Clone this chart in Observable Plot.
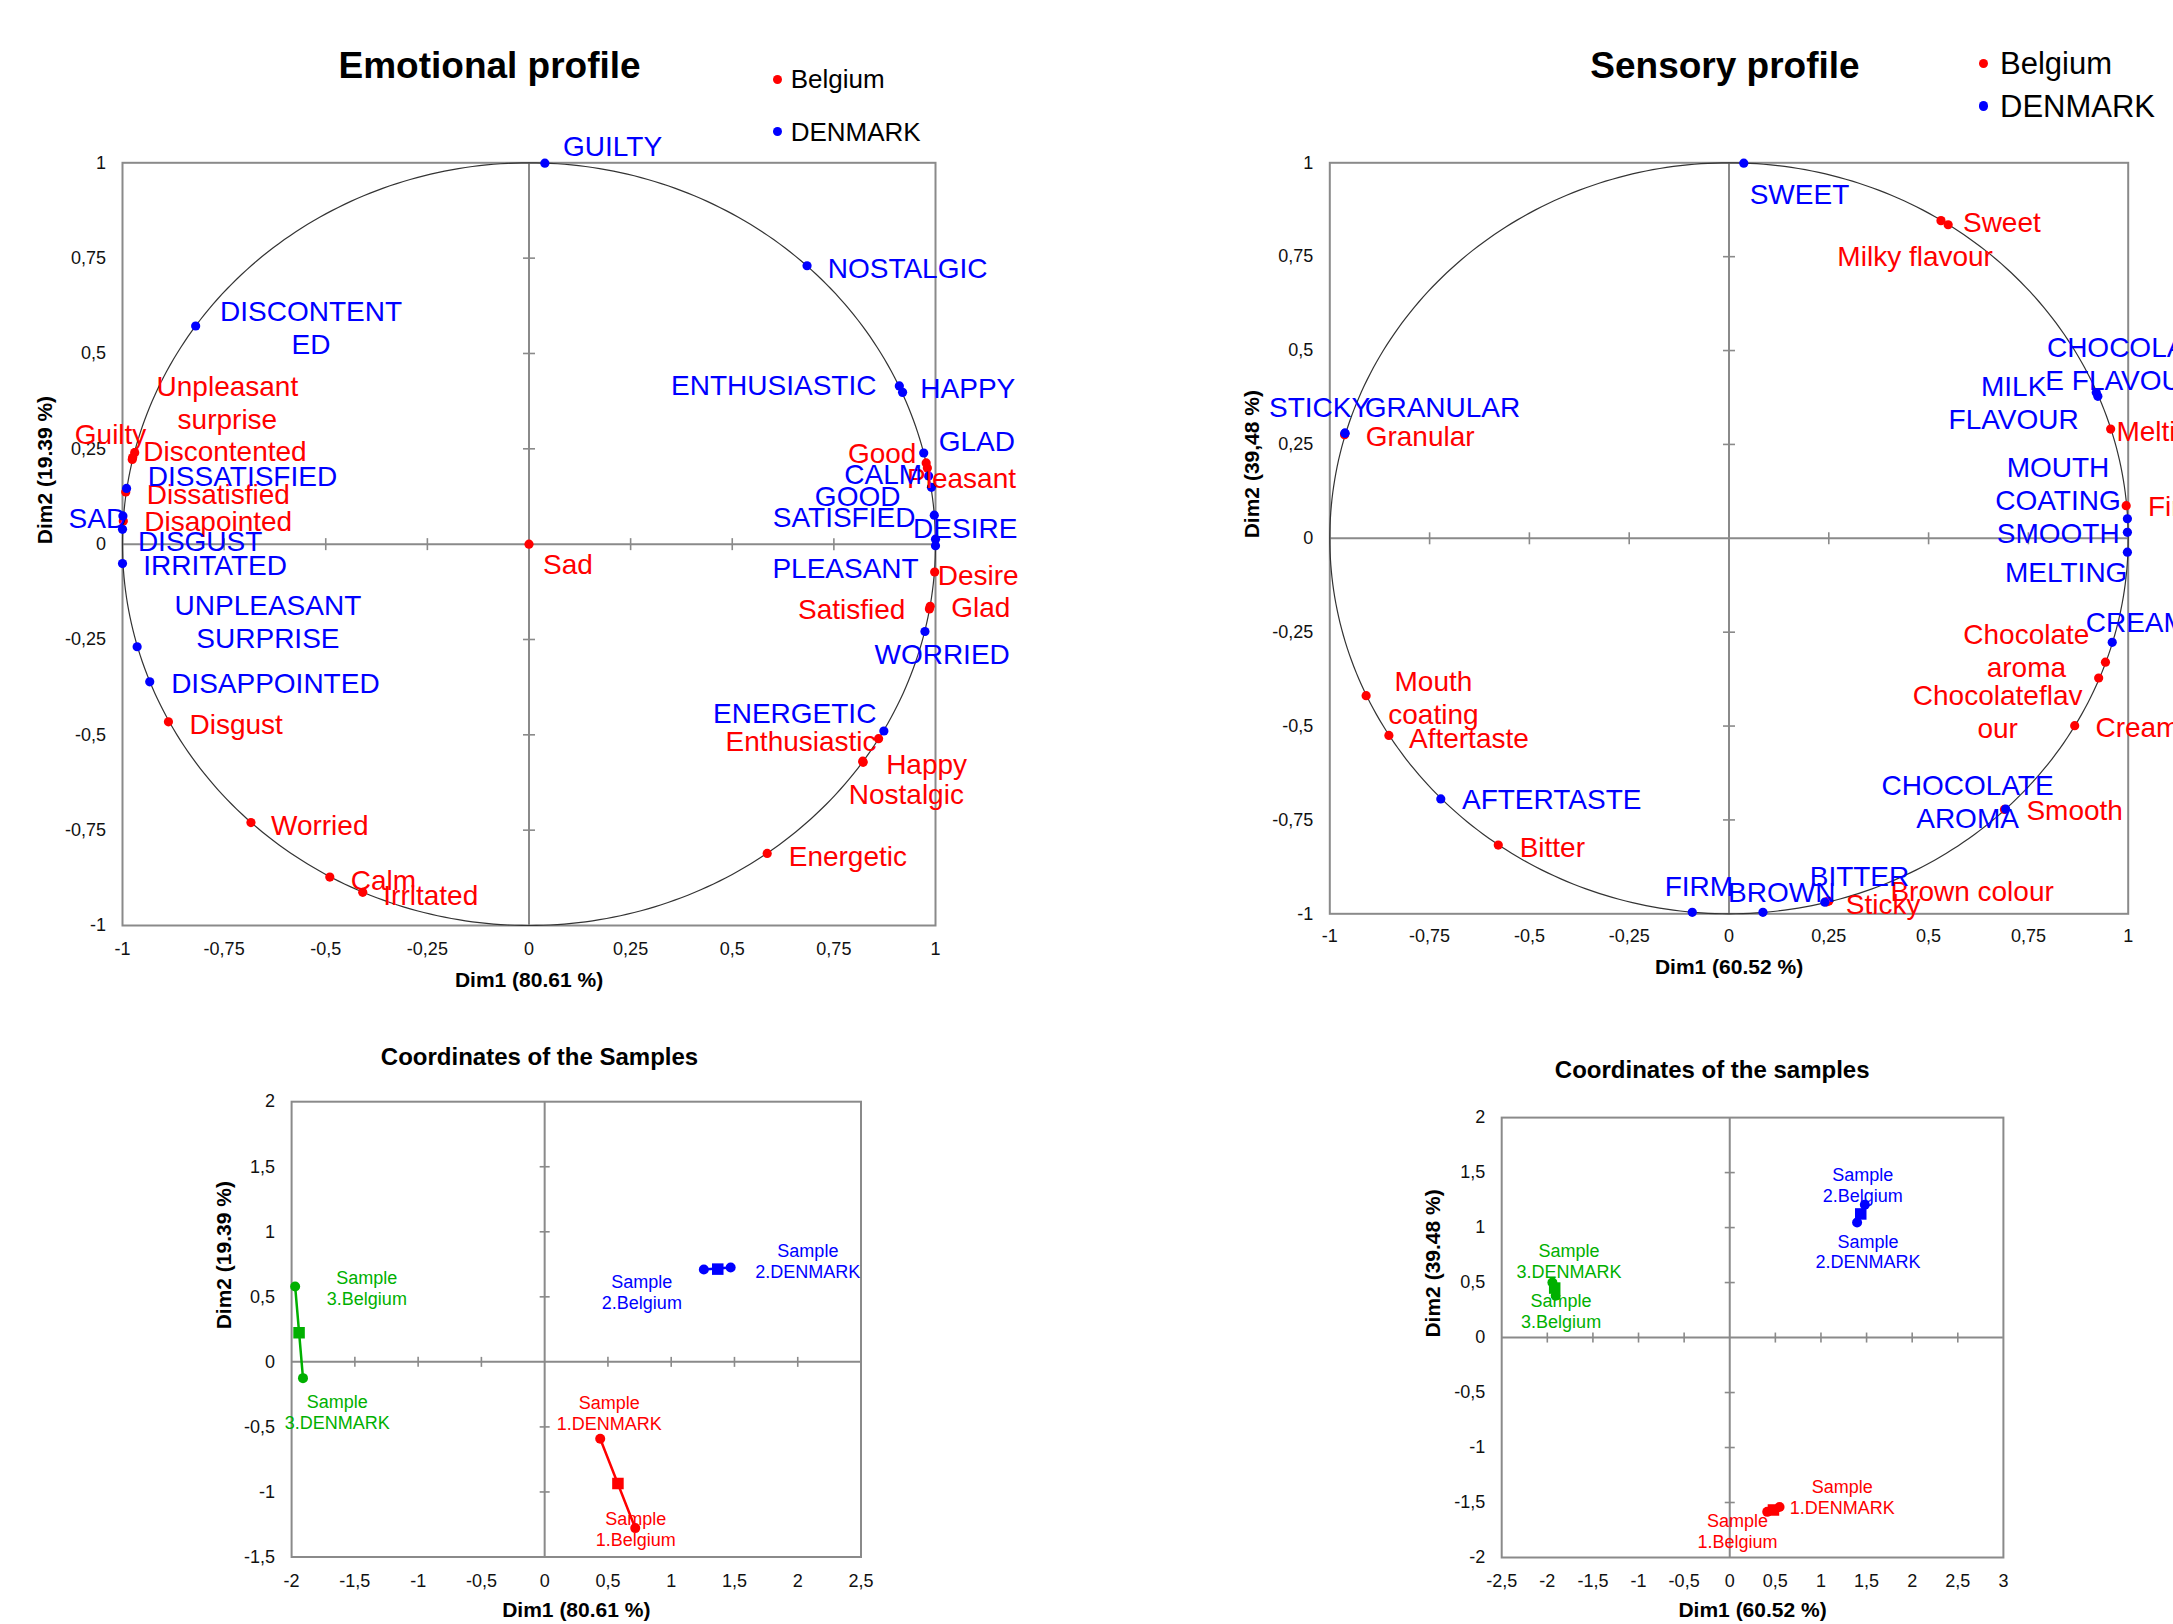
<!DOCTYPE html>
<html>
<head>
<meta charset="utf-8">
<script src="https://cdn.jsdelivr.net/npm/d3@7"></script>
<script src="https://cdn.jsdelivr.net/npm/@observablehq/plot@0.6"></script>
<style>
  html, body { margin: 0; padding: 0; background: #fff; }
  #page { position: relative; width: 2173px; height: 1624px; overflow: hidden; background: #fff;
          font-family: "Liberation Sans", Arial, Helvetica, sans-serif; color: #000; }
  .txt { position: absolute; white-space: nowrap; line-height: 1; }
  .ldot { position: absolute; border-radius: 50%; }
</style>
</head>
<body>
<div id="page"></div>
<script>
// ===================== DATA =====================
// Tick values
const corrTicks = [-1, -0.75, -0.5, -0.25, 0, 0.25, 0.5, 0.75, 1];
const emoSampleTicksX = [-2, -1.5, -1, -0.5, 0, 0.5, 1, 1.5, 2, 2.5];
const emoSampleTicksY = [-1.5, -1, -0.5, 0, 0.5, 1, 1.5, 2];
const senSampleTicksX = [-2.5, -2, -1.5, -1, -0.5, 0, 0.5, 1, 1.5, 2, 2.5, 3];
const senSampleTicksY = [-2, -1.5, -1, -0.5, 0, 0.5, 1, 1.5, 2];

// Emotional profile — Belgium (red)
const emoBelgiumNames = ["Unpleasant\nsurprise", "Guilty", "Discontented", "Dissatisfied", "Disapointed", "Sad", "Disgust", "Worried", "Calm", "Irritated", "Good", "Pleasant", "Desire", "Glad", "Satisfied", "Enthusiastic", "Happy", "Nostalgic", "Energetic"];
const emoBelgiumX = [-0.970, -0.975, -0.976, -0.992, -0.998, 0.000, -0.887, -0.684, -0.490, -0.409, 0.977, 0.980, 0.998, 0.987, 0.985, 0.860, 0.821, 0.822, 0.586];
const emoBelgiumY = [0.240, 0.227, 0.222, 0.137, 0.061, 0.000, -0.466, -0.730, -0.873, -0.913, 0.213, 0.200, -0.073, -0.163, -0.170, -0.510, -0.569, -0.572, -0.811];

// Emotional profile — DENMARK (blue)
const emoDenmarkNames = ["GUILTY", "NOSTALGIC", "DISCONTENT\nED", "ENTHUSIASTIC", "HAPPY", "GLAD", "CALM", "GOOD", "SATISFIED", "DESIRE", "PLEASANT", "DISSATISFIED", "SAD", "DISGUST", "IRRITATED", "UNPLEASANT\nSURPRISE", "DISAPPOINTED", "WORRIED", "ENERGETIC"];
const emoDenmarkX = [0.039, 0.684, -0.820, 0.911, 0.919, 0.971, 0.983, 0.990, 0.997, 1.000, 1.000, -0.990, -0.999, -1.000, -1.000, -0.964, -0.933, 0.974, 0.873];
const emoDenmarkY = [0.999, 0.730, 0.572, 0.415, 0.398, 0.239, 0.179, 0.149, 0.076, 0.013, -0.004, 0.146, 0.074, 0.039, -0.051, -0.269, -0.361, -0.229, -0.490];

// Sensory profile — Belgium (red)
const senBelgiumNames = ["Sweet", "Milky flavour", "Melting", "Firm", "Chocolate\naroma", "Chocolateflav\nour", "Creamy", "Smooth", "Sticky", "Brown colour", "Bitter", "Aftertaste", "Mouth\ncoating", "Granular"];
const senBelgiumX = [0.531, 0.549, 0.956, 0.995, 0.943, 0.926, 0.866, 0.690, 0.245, 0.250, -0.578, -0.852, -0.909, -0.963];
const senBelgiumY = [0.846, 0.835, 0.291, 0.087, -0.330, -0.372, -0.499, -0.722, -0.968, -0.966, -0.817, -0.525, -0.419, 0.276];

// Sensory profile — DENMARK (blue)
const senDenmarkNames = ["SWEET", "CHOCOLAT\nE FLAVOUR", "MILK\nFLAVOUR", "MOUTH\nCOATING", "SMOOTH", "MELTING", "CREAMY", "CHOCOLATE\nAROMA", "BITTER", "BROWN", "FIRM", "AFTERTASTE", "STICKY", "GRANULAR"];
const senDenmarkX = [0.037, 0.924, 0.920, 0.998, 0.998, 0.998, 0.960, 0.693, 0.240, 0.085, -0.092, -0.722, -0.962, -0.962];
const senDenmarkY = [0.999, 0.378, 0.388, 0.052, 0.016, -0.037, -0.277, -0.721, -0.969, -0.996, -0.996, -0.694, 0.280, 0.280];

// Coordinates of the samples (emotional) — samples 1, 2, 3
const emoSampleBelgiumLabels = ["Sample\n1.Belgium", "Sample\n2.Belgium", "Sample\n3.Belgium"];
const emoSampleDenmarkLabels = ["Sample\n1.DENMARK", "Sample\n2.DENMARK", "Sample\n3.DENMARK"];
const emoSampleBelgiumX = [0.716, 1.258, -1.972];
const emoSampleBelgiumY = [-1.278, 0.710, 0.580];
const emoSampleDenmarkX = [0.439, 1.470, -1.910];
const emoSampleDenmarkY = [-0.591, 0.725, -0.125];
const emoSampleCentreX = [0.579, 1.368, -1.941];
const emoSampleCentreY = [-0.935, 0.713, 0.224];

// Coordinates of the samples (sensory)
const senSampleBelgiumLabels = ["Sample\n1.Belgium", "Sample\n2.Belgium", "Sample\n3.Belgium"];
const senSampleDenmarkLabels = ["Sample\n1.DENMARK", "Sample\n2.DENMARK", "Sample\n3.DENMARK"];
const senSampleBelgiumX = [0.411, 1.481, -1.908];
const senSampleBelgiumY = [-1.585, 1.208, 0.380];
const senSampleDenmarkX = [0.546, 1.396, -1.944];
const senSampleDenmarkY = [-1.541, 1.046, 0.501];
const senSampleCentreX = [0.479, 1.436, -1.919];
const senSampleCentreY = [-1.568, 1.124, 0.450];

// ===================== LABEL PLACEMENT (pixel offsets, style) =====================
const emoLabelPos = {
  "Unpleasant\nsurprise": [92.7, -50.4, "middle"], "Guilty": [13.7, -23.8, "end"], "Discontented": [11, -8.7, "start"],
  "Dissatisfied": [21, 1.6, "start"], "Disapointed": [21, -0.6, "start"], "Sad": [14, 19.4, "start"],
  "Disgust": [21, 2, "start"], "Worried": [20, 2, "start"], "Calm": [21, 2, "start"], "Irritated": [20.6, 2, "start"],
  "Good": [-9.7, -10.4, "end"], "Pleasant": [-20.3, 9.6, "start"], "Desire": [3, 2.2, "start"], "Glad": [21, 0.6, "start"],
  "Satisfied": [-24, -0.4, "end"], "Enthusiastic": [-2, 1.7, "end"], "Happy": [23.4, 2.6, "start"],
  "Nostalgic": [-14.4, 31.5, "start"], "Energetic": [21.5, 1.7, "start"],
  "GUILTY": [18.2, -17.7, "start"], "NOSTALGIC": [20.7, 1.5, "start"], "DISCONTENT\nED": [115.4, 0.6, "middle"],
  "ENTHUSIASTIC": [-22.9, -1.2, "end"], "HAPPY": [17.8, -5, "start"], "GLAD": [15, -12.2, "start"],
  "CALM": [-6.5, -2.4, "end"], "GOOD": [-31, 8.5, "end"], "SATISFIED": [-18.9, 1.7, "end"],
  "DESIRE": [-22.4, -11.6, "start"], "PLEASANT": [-16.8, 21.9, "end"], "DISSATISFIED": [21.3, -13.4, "start"],
  "SAD": [3.2, 1.6, "end"], "DISGUST": [15.4, 10.9, "start"], "IRRITATED": [20.8, 1.3, "start"],
  "UNPLEASANT\nSURPRISE": [130.8, -25.5, "middle"], "DISAPPOINTED": [21.4, 0.9, "start"],
  "WORRIED": [17.2, 22.2, "middle"], "ENERGETIC": [-7.5, -18.3, "end"]
};
const senLabelPos = {
  "Sweet": [22, 1, "start"], "Milky flavour": [-110.8, 30.8, "start"], "Melting": [5.8, 0.9, "start"],
  "Firm": [21.8, 0, "start"], "Chocolate\naroma": [-79.1, -12.1, "middle"], "Chocolateflav\nour": [-101, 33.4, "middle"],
  "Creamy": [20.7, 0.9, "start"], "Smooth": [22, 0.5, "start"], "Sticky": [18.9, 2.1, "start"],
  "Brown colour": [61.6, -10.4, "start"], "Bitter": [21.4, 1.5, "start"], "Aftertaste": [20.1, 1.9, "start"],
  "Mouth\ncoating": [67.3, 1.7, "middle"], "Granular": [21.1, 0.9, "start"],
  "SWEET": [5.9, 30.7, "start"], "CHOCOLAT\nE FLAVOUR": [25.8, -33.8, "middle"], "MILK\nFLAVOUR": [-82.6, 9, "middle"],
  "MOUTH\nCOATING": [-69.4, -35.4, "middle"], "SMOOTH": [-7.7, 0, "end"], "MELTING": [0, 19.1, "end"],
  "CREAMY": [-26.5, -21, "start"], "CHOCOLATE\nAROMA": [-38.1, -8.4, "middle"], "BITTER": [-15.1, -26.6, "start"],
  "BROWN": [-34.9, -21, "start"], "FIRM": [-27.6, -26.7, "start"], "AFTERTASTE": [21.2, 0, "start"],
  "STICKY": [-76, -26.6, "start"], "GRANULAR": [19.7, -26.6, "start"]
};
const emoSampleLabelPos = [[0.5, 0.5], [-62, 21.9], [71.7, 1.8]];     // Belgium labels, samples 1..3
const emoSampleLabelPosDk = [[9.1, -25.6], [77.2, -6.9], [34.3, 33.9]]; // DENMARK labels
const senSampleLabelPos = [[-29.8, 18.6], [-2.1, -20.1], [5.4, 15.4]];
const senSampleLabelPosDk = [[62.8, -10.3], [11, 28.8], [16.5, -21.4]];

// ===================== DRAWING =====================
const page = document.getElementById("page");
const RED = "#ff0000", BLUE = "#0000ff", GREEN = "#00b000", GRAY = "#8a8a8a";
const sampleColors = [RED, BLUE, GREEN];
const FONT = "'Liberation Sans', Arial, Helvetica, sans-serif";
const fmt = d => String(d).replace(".", ",");
const hTick = {draw(ctx, size) { const r = Math.sqrt(size / Math.PI); ctx.moveTo(-r, 0); ctx.lineTo(r, 0); }};
const vTick = {draw(ctx, size) { const r = Math.sqrt(size / Math.PI); ctx.moveTo(0, -r); ctx.lineTo(0, r); }};

function mount(svg, left, top) {
  Object.assign(svg.style, {position: "absolute", left: left + "px", top: top + "px",
    maxWidth: "none", background: "transparent", overflow: "visible"});
  page.appendChild(svg);
}
function htmlText(str, x, y, size, bold, anchor) {
  const d = document.createElement("div");
  d.className = "txt";
  d.textContent = str;
  d.style.fontSize = size + "px";
  d.style.fontWeight = bold ? "bold" : "normal";
  d.style.left = x + "px";
  d.style.top = y + "px";
  d.style.transform = anchor === "start" ? "translate(0,-50%)" : "translate(-50%,-50%)";
  page.appendChild(d);
}
function legendDot(cx, cy, r, color) {
  const d = document.createElement("div");
  d.className = "ldot";
  Object.assign(d.style, {left: (cx - r) + "px", top: (cy - r) + "px", width: 2 * r + "px", height: 2 * r + "px", background: color});
  page.appendChild(d);
}
function gridMarks(tx, ty, tickR) {
  const ix = tx.filter(t => t !== 0 && t !== tx[0] && t !== tx[tx.length - 1]);
  const iy = ty.filter(t => t !== 0 && t !== ty[0] && t !== ty[ty.length - 1]);
  return [
    Plot.ruleX([0], {stroke: GRAY, strokeWidth: 2}),
    Plot.ruleY([0], {stroke: GRAY, strokeWidth: 2}),
    Plot.dot(iy, {x: () => 0, y: d => d, symbol: hTick, r: tickR, stroke: GRAY, strokeWidth: 1.6, fill: "none"}),
    Plot.dot(ix, {x: d => d, y: () => 0, symbol: vTick, r: tickR, stroke: GRAY, strokeWidth: 1.6, fill: "none"}),
    Plot.frame({stroke: GRAY, strokeWidth: 2})
  ];
}
function axisTitles(xt, yt, xdy, ydx) {
  return [
    Plot.text([xt], {text: d => d, frameAnchor: "bottom", dy: xdy, fontWeight: "bold", fontSize: 21, lineAnchor: "middle", fill: "#000"}),
    Plot.text([yt], {text: d => d, frameAnchor: "left", dx: ydx, rotate: -90, fontWeight: "bold", fontSize: 21, lineAnchor: "middle", fill: "#000"})
  ];
}
function labels(names, xs, ys, posOf, fill, fontSize, lineHeight) {
  return names.map((name, i) => {
    const [dx, dy, anchor] = posOf(name, i);
    return Plot.text([i], {x: j => xs[j], y: j => ys[j], text: j => names[j], dx, dy,
      textAnchor: anchor, lineAnchor: "middle", lineHeight, fill, fontSize});
  });
}
const circle = d3.range(0, 361, 1).map(a => [Math.cos(a * Math.PI / 180), Math.sin(a * Math.PI / 180)]);

function corrPanel(c) {
  const svg = Plot.plot({
    width: c.width, height: c.height,
    marginLeft: c.ml, marginRight: c.mr, marginTop: c.mt, marginBottom: c.mb,
    style: {fontFamily: FONT, fontSize: "18px", color: "#111", background: "transparent"},
    x: {domain: [-1, 1], ticks: corrTicks, tickFormat: fmt, tickSize: 0, tickPadding: c.xPad, label: null},
    y: {domain: [-1, 1], ticks: corrTicks, tickFormat: fmt, tickSize: 0, tickPadding: 16.5, label: null},
    marks: [
      ...gridMarks(corrTicks, corrTicks, 6),
      Plot.line(circle, {x: d => d[0], y: d => d[1], stroke: "#333", strokeWidth: 1.2}),
      Plot.dot(d3.range(c.bx.length), {x: i => c.bx[i], y: i => c.by[i], r: 4.6, fill: RED}),
      Plot.dot(d3.range(c.dx.length), {x: i => c.dx[i], y: i => c.dy[i], r: 4.6, fill: BLUE}),
      ...labels(c.bn, c.bx, c.by, n => c.pos[n], RED, 28, 1.18),
      ...labels(c.dn, c.dx, c.dy, n => c.pos[n], BLUE, 28, 1.18),
      ...axisTitles(c.xt, c.yt, c.xdy, c.ydx)
    ]
  });
  mount(svg, c.left, c.top);
}

function samplePanel(c) {
  const idx = [0, 1, 2];
  const pts = idx.flatMap(i => [{s: i, x: c.bx[i], y: c.by[i]}, {s: i, x: c.dx[i], y: c.dy[i]}]);
  const svg = Plot.plot({
    width: c.width, height: c.height,
    marginLeft: c.ml, marginRight: c.mr, marginTop: c.mt, marginBottom: c.mb,
    style: {fontFamily: FONT, fontSize: "18px", color: "#111", background: "transparent"},
    color: {type: "identity"},
    x: {domain: [c.tx[0], c.tx[c.tx.length - 1]], ticks: c.tx, tickFormat: fmt, tickSize: 0, tickPadding: c.xPad, label: null},
    y: {domain: [c.ty[0], c.ty[c.ty.length - 1]], ticks: c.ty, tickFormat: fmt, tickSize: 0, tickPadding: 16.5, label: null},
    marks: [
      ...gridMarks(c.tx, c.ty, 5),
      Plot.line(pts, {x: "x", y: "y", z: "s", stroke: d => sampleColors[d.s], strokeWidth: 2.5}),
      Plot.dot(pts, {x: "x", y: "y", r: 5, fill: d => sampleColors[d.s]}),
      Plot.dot(idx, {x: i => c.cx[i], y: i => c.cy[i], symbol: "square", r: 6.5, fill: i => sampleColors[i]}),
      ...idx.flatMap(i => [
        Plot.text([i], {x: j => c.bx[j], y: j => c.by[j], text: j => c.bl[j], dx: c.bpos[i][0], dy: c.bpos[i][1],
          textAnchor: "middle", lineAnchor: "middle", lineHeight: 1.16, fill: sampleColors[i], fontSize: 18}),
        Plot.text([i], {x: j => c.dx[j], y: j => c.dy[j], text: j => c.dl[j], dx: c.dpos[i][0], dy: c.dpos[i][1],
          textAnchor: "middle", lineAnchor: "middle", lineHeight: 1.16, fill: sampleColors[i], fontSize: 18})
      ]),
      ...axisTitles(c.xt, c.yt, c.xdy, c.ydx)
    ]
  });
  mount(svg, c.left, c.top);
}

// ---- Emotional profile ----
corrPanel({left: 0, top: 0, width: 1060, height: 1010, ml: 122, mr: 125, mt: 162.3, mb: 85, xPad: 17,
  bn: emoBelgiumNames, bx: emoBelgiumX, by: emoBelgiumY, dn: emoDenmarkNames, dx: emoDenmarkX, dy: emoDenmarkY,
  pos: emoLabelPos, xt: "Dim1 (80.61 %)", yt: "Dim2 (19.39 %)", xdy: 54.3, ydx: -77.4});
htmlText("Emotional profile", 489.6, 65, 37, true);
legendDot(777.3, 79.3, 4.6, RED); htmlText("Belgium", 790.7, 79.3, 26, false, "start");
legendDot(777.3, 131.7, 4.6, BLUE); htmlText("DENMARK", 790.7, 131.7, 26, false, "start");

// ---- Sensory profile ----
corrPanel({left: 1230, top: 0, width: 943, height: 1010, ml: 99.3, mr: 45.3, mt: 162.3, mb: 96.7, xPad: 15.3,
  bn: senBelgiumNames, bx: senBelgiumX, by: senBelgiumY, dn: senDenmarkNames, dx: senDenmarkX, dy: senDenmarkY,
  pos: senLabelPos, xt: "Dim1 (60.52 %)", yt: "Dim2 (39,48 %)", xdy: 53.4, ydx: -77.6});
htmlText("Sensory profile", 1725, 65, 37, true);
legendDot(1983.7, 63.3, 4.8, RED); htmlText("Belgium", 2000, 63.3, 31, false, "start");
legendDot(1983.7, 106, 4.8, BLUE); htmlText("DENMARK", 2000, 106, 31, false, "start");

// ---- Coordinates of the Samples (emotional) ----
samplePanel({left: 190, top: 1030, width: 700, height: 594, ml: 101.1, mr: 29.5, mt: 71.2, mb: 67.5, xPad: 17,
  tx: emoSampleTicksX, ty: emoSampleTicksY,
  bx: emoSampleBelgiumX, by: emoSampleBelgiumY, dx: emoSampleDenmarkX, dy: emoSampleDenmarkY,
  cx: emoSampleCentreX, cy: emoSampleCentreY, bl: emoSampleBelgiumLabels, dl: emoSampleDenmarkLabels,
  bpos: emoSampleLabelPos, dpos: emoSampleLabelPosDk,
  xt: "Dim1 (80.61 %)", yt: "Dim2 (19.39 %)", xdy: 53, ydx: -67.2});
htmlText("Coordinates of the Samples", 539.5, 1056.5, 24, true);

// ---- Coordinates of the samples (sensory) ----
samplePanel({left: 1400, top: 1040, width: 640, height: 584, ml: 101.2, mr: 37.1, mt: 77.1, mb: 67, xPad: 16.6,
  tx: senSampleTicksX, ty: senSampleTicksY,
  bx: senSampleBelgiumX, by: senSampleBelgiumY, dx: senSampleDenmarkX, dy: senSampleDenmarkY,
  cx: senSampleCentreX, cy: senSampleCentreY, bl: senSampleBelgiumLabels, dl: senSampleDenmarkLabels,
  bpos: senSampleLabelPos, dpos: senSampleLabelPosDk,
  xt: "Dim1 (60.52 %)", yt: "Dim2 (39.48 %)", xdy: 52.8, ydx: -68.5});
htmlText("Coordinates of the samples", 1712.2, 1069.8, 24, true);
</script>
</body>
</html>
